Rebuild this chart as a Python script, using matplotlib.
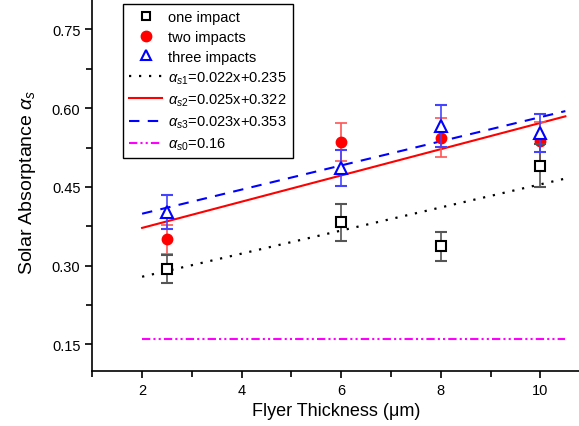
import numpy as np
import matplotlib
matplotlib.use("Agg")
import matplotlib.pyplot as plt
from matplotlib.lines import Line2D
from matplotlib.ticker import MultipleLocator, FormatStrFormatter

plt.rcParams['font.family'] = ['Liberation Sans', 'DejaVu Sans']
plt.rcParams['mathtext.fontset'] = 'custom'
plt.rcParams['mathtext.rm'] = 'Liberation Sans'
plt.rcParams['mathtext.it'] = 'Liberation Sans:italic'

# measured data
thickness = [2.5, 6, 8, 10]

one_y = [0.294, 0.383, 0.337, 0.490]
one_err = [0.027, 0.035, 0.028, 0.041]

two_y = [0.350, 0.536, 0.544, 0.537]
two_err = [0.028, 0.036, 0.037, 0.037]

three_y = [0.402, 0.486, 0.567, 0.553]
three_err = [0.032, 0.035, 0.040, 0.036]

# fitted lines (slope, intercept) from the legend
fit_s1 = (0.022, 0.235)
fit_s2 = (0.025, 0.322)
fit_s3 = (0.023, 0.353)
alpha_s0 = 0.16
fit_x = np.array([2.0, 10.5])

fig = plt.figure(figsize=(5.79, 4.27), dpi=100)
ax = fig.add_axes([92.3 / 579, 55.3 / 427, 488 / 579, 378 / 427])

# points with error bars
ax.errorbar(thickness, one_y, yerr=one_err, fmt='s', ms=6.5, mfc='white', mec='black',
            mew=1.5, ecolor='#555555', elinewidth=1.2, capsize=4.5, capthick=1.2, zorder=5)
ax.errorbar(thickness, two_y, yerr=two_err, fmt='o', ms=7.5, mfc='red', mec='red',
            ecolor='#ff5555', elinewidth=1.2, capsize=4.5, capthick=1.2, zorder=4)
ax.errorbar(thickness, three_y, yerr=three_err, fmt='^', ms=8, mfc='white', mec='blue',
            mew=1.5, ecolor='#4444ff', elinewidth=1.2, capsize=4.5, capthick=1.2, zorder=6)

# fits
l1, = ax.plot(fit_x, fit_s1[0] * fit_x + fit_s1[1], color='black', lw=1.6,
              linestyle=(0, (1, 3.5)))
l2, = ax.plot(fit_x, fit_s2[0] * fit_x + fit_s2[1], color='red', lw=1.5)
l3, = ax.plot(fit_x, fit_s3[0] * fit_x + fit_s3[1], color='blue', lw=1.5,
              linestyle=(0, (5, 4)))
l0, = ax.plot(fit_x, [alpha_s0, alpha_s0], color='#ff00ff', lw=1.5,
              linestyle=(0, (4, 1.5, 1, 1.5, 1, 1.5)))

ax.set_xlim(1, 10.8)
ax.set_ylim(0.1, 0.82)
ax.xaxis.set_major_locator(MultipleLocator(2))
ax.xaxis.set_minor_locator(MultipleLocator(1))
ax.yaxis.set_major_locator(MultipleLocator(0.15))
ax.yaxis.set_minor_locator(MultipleLocator(0.075))
ax.yaxis.set_major_formatter(FormatStrFormatter('%.2f'))
ax.tick_params(which='major', direction='out', length=5, width=1.2, labelsize=10.5)
ax.tick_params(which='minor', direction='out', length=4, width=1.2)

for s in ['top', 'right']:
    ax.spines[s].set_visible(False)
for s in ['left', 'bottom']:
    ax.spines[s].set_linewidth(1.2)

ax.set_xlabel('Flyer Thickness (μm)', fontsize=13)
ax.set_ylabel(r'Solar Absorptance $\alpha_s$', fontsize=14, labelpad=10)

# legend: markers only for the data series
h_one = Line2D([], [], ls='none', marker='s', ms=6, mfc='white', mec='black', mew=1.5)
h_two = Line2D([], [], ls='none', marker='o', ms=7.5, mfc='red', mec='red')
h_three = Line2D([], [], ls='none', marker='^', ms=7.5, mfc='white', mec='blue', mew=1.5)
handles = [h_one, h_two, h_three, l1, l2, l3, l0]
labels = ['one impact', 'two impacts', 'three impacts',
          r'$\alpha_{s1}$=0.022x+0.235', r'$\alpha_{s2}$=0.025x+0.322',
          r'$\alpha_{s3}$=0.023x+0.353', r'$\alpha_{s0}$=0.16']

leg = ax.legend(handles, labels, loc='upper left', bbox_to_anchor=(123 / 579, 1 - 5 / 427),
                bbox_transform=fig.transFigure, fontsize=10.5, frameon=True,
                fancybox=False, framealpha=1, edgecolor='black', borderaxespad=0,
                handlelength=2.3, labelspacing=0.4, borderpad=0.4,
                handletextpad=0.4, numpoints=1)
leg.get_frame().set_linewidth(1.0)

fig.savefig('out.png', dpi=100)
